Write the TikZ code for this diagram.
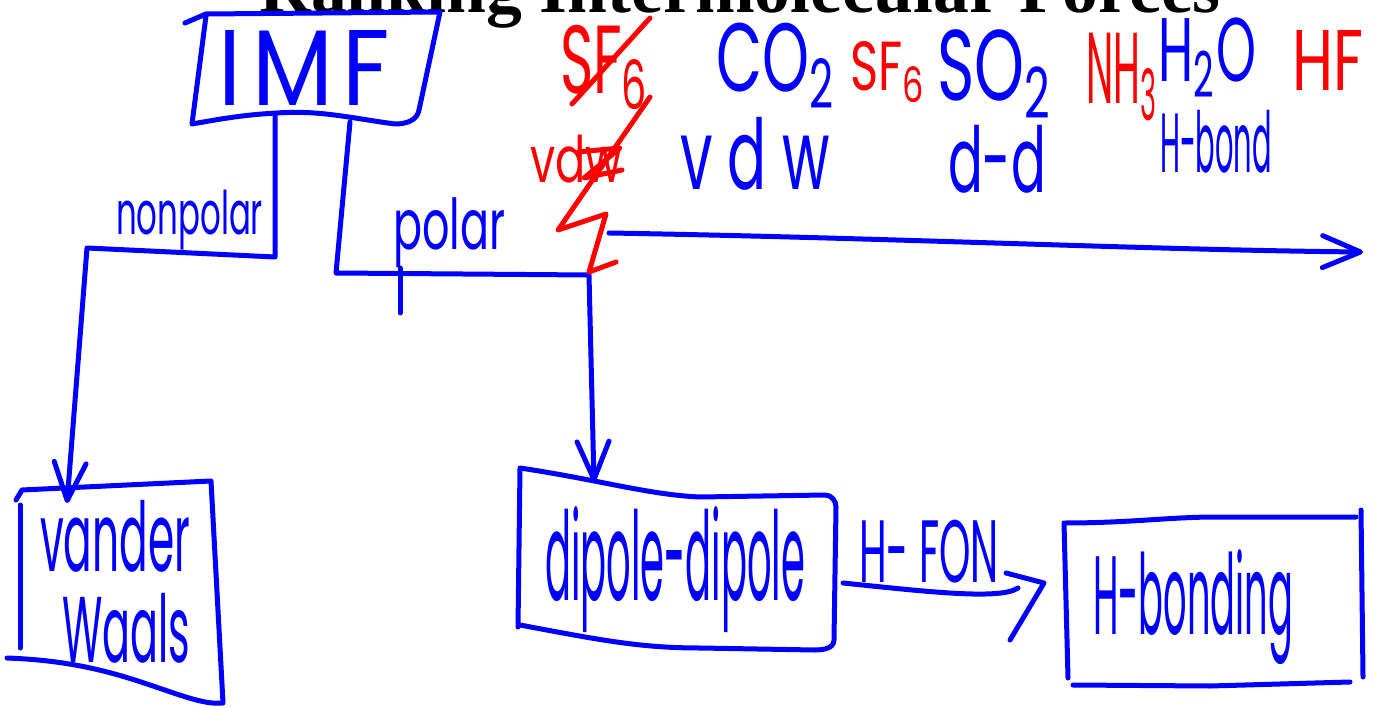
\documentclass[tikz,border=0pt]{standalone}
\usepackage{fontspec}
\setmainfont{Liberation Serif}
\newfontfamily\hwfont{Poppins}
\usetikzlibrary{arrows.meta}
\newcommand{\hwbox}[3]{\resizebox*{#1pt}{#2pt}{\hwfont #3}}
\begin{document}
\begin{tikzpicture}[x=1pt,y=-1pt,
  hand/.style={line width=5pt, line cap=round, line join=round},
  bl/.style={hand, draw=blue},
  rd/.style={hand, draw=red},
  hw/.style={inner sep=0pt, outer sep=0pt, anchor=north west},
  bt/.style={hw, text=blue},
  rt/.style={hw, text=red},
  barb/.style={-{Straight Barb[length=38pt,width=32pt,round]}}]
\useasboundingbox (0,0) rectangle (1380,708);
\fill[white] (0,0) rectangle (1380,708);
% title
\node[anchor=base, inner sep=0pt, font=\fontsize{71.6}{72}\selectfont\bfseries] (title) at (740,13) {Ranking Intermolecular Forces};
% boxes
\draw[bl] (185,23) -- (206,14) -- (440,12) -- (419,110) to[out=-100,in=0] (395,124) .. controls (350,118) and (320,110) .. (277,113) .. controls (240,115) and (215,120) .. (192,124) -- (206,16);
\draw[bl] (16,500) -- (22,490) -- (211,481) -- (223,703);
\draw[bl] (7,658) .. controls (60,660) and (100,668) .. (147,684) .. controls (180,695) and (205,705) .. (222,703);
\draw[bl] (20,505) -- (20,648);
\draw[bl] (518,627) -- (520,468) .. controls (600,480) and (650,495) .. (700,497) -- (825,495) to[out=0,in=90] (836,507) -- (834,640) to[out=-90,in=0] (815,650) -- (700,648) .. controls (640,648) and (600,640) .. (520,625);
\draw[bl] (1068,678) -- (1064,523) .. controls (1130,523) and (1170,517) .. (1216,517) -- (1356,517);
\draw[bl] (1361,510) -- (1363,677);
\draw[bl] (1073,685) -- (1210,686) -- (1350,682);
% texts
\node[bt] (imf) at (218,30) {\hwbox{172}{75}{I\hspace{0.12em}M\hspace{0.1em}F}};
\node[bt] (nonpolar) at (116,190) {\hwbox{147}{60}{nonpolar}};
\node[bt] (polar) at (393,198) {\hwbox{112}{70}{polar}};
\node[rt] (sfx) at (560,25) {\hwbox{90}{85}{SF\textsubscript{6}}};
\node[rt] (vdwx) at (530,135) {\hwbox{92}{48}{vdw}};
\node[bt] (co2) at (716,23) {\hwbox{120}{85}{CO\textsubscript{2}}};
\node[rt] (sf6) at (850,42) {\hwbox{76}{61}{SF\textsubscript{6}}};
\node[bt] (so2) at (937,30) {\hwbox{116}{88}{SO\textsubscript{2}}};
\node[rt] (nh3) at (1086,33) {\hwbox{72}{88}{NH\textsubscript{3}}};
\node[bt] (h2o) at (1158,18) {\hwbox{98}{79}{H\textsubscript{2}O}};
\node[rt] (hf) at (1292,30) {\hwbox{71}{60}{HF}};
\node[bt] (vdw) at (680,117) {\hwbox{150}{73}{v d w}};
\node[bt] (dd) at (948,125) {\hwbox{98}{68}{d-d}};
\node[bt] (hb) at (1160,110) {\hwbox{112}{63}{H-bond}};
\node[bt] (vander) at (40,500) {\hwbox{150}{72}{vander}};
\node[bt] (waals) at (62,593) {\hwbox{128}{70}{Waals}};
\node[bt] (dipole) at (545,507) {\hwbox{260}{126}{dipole-dipole}};
\node[bt] (hfon) at (859,520) {\hwbox{140}{63}{H- FON}};
\node[bt] (hbonding) at (1093,550) {\hwbox{200}{115}{H-bonding}};
% connectors
\coordinate (imfL) at (275,115);
\coordinate (imfR) at (350,122);
\coordinate (np1) at (275,257);
\coordinate (np2) at (87,248);
\coordinate (vdwTop) at (67,503);
\coordinate (p1) at (336,273);
\coordinate (p2) at (589,275);
\coordinate (dipTop) at (594,482);
\coordinate (aS) at (609,233);
\coordinate (aE) at (1363,252);
\coordinate (dipE) at (843,583);
\coordinate (hbW) at (1044,583);
\draw[bl,barb] (imfL) -- (np1) -- (np2) -- (vdwTop);
\draw[bl,barb] (imfR) -- (p1) -- (p2) -- (dipTop);
\draw[bl,barb] (aS) .. controls (900,238) and (1150,250) .. (aE);
\draw[bl] (dipE) .. controls (930,592) and (1000,600) .. (1018,588);
\draw[bl] (1006,573) -- (hbW) -- (1010,640);
\draw[bl] (400,268) -- (400,313);
% red strikes
\draw[rd] (650,18) -- (572,104);
\draw[rd] (650,97) -- (558,230) -- (606,214) -- (589,272) -- (616,262);
\draw[rd] (578,152) -- (620,148) -- (584,178) -- (622,170);
\end{tikzpicture}
\end{document}
